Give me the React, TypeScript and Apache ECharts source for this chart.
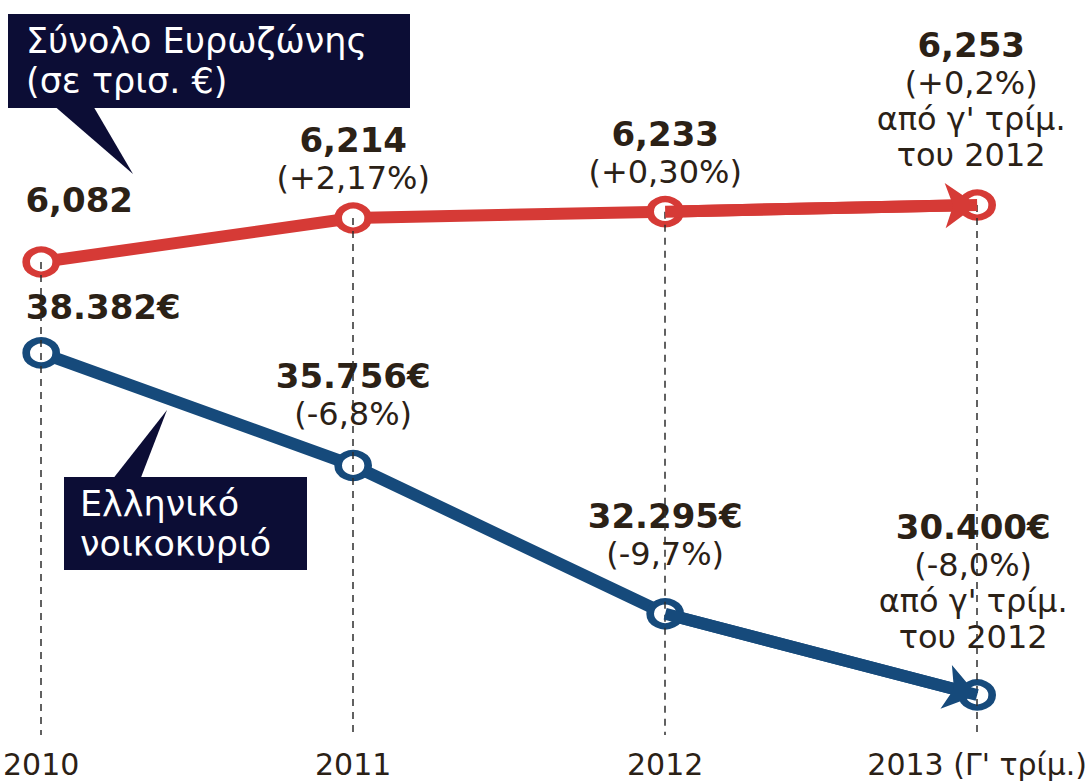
import React, { useEffect, useRef } from "react";
import * as echarts from "echarts";

// ---- data ----
const years = ["2010", "2011", "2012", "2013 (Γ' τρίμ.)"];
const eurozone = [6.082, 6.214, 6.233, 6.253];
const eurozoneText = ["6,082", "6,214", "6,233", "6,253"];
const eurozoneChange = ["", "(+2,17%)", "(+0,30%)", "(+0,2%)\nαπό γ' τρίμ.\nτου 2012"];
const household = [38382, 35756, 32295, 30400];
const householdText = ["38.382€", "35.756€", "32.295€", "30.400€"];
const householdChange = ["", "(-6,8%)", "(-9,7%)", "(-8,0%)\nαπό γ' τρίμ.\nτου 2012"];

// ---- layout / style ----
const FONT = '"DejaVu Sans", "Noto Sans", sans-serif';
const RED = "#d63a36";
const BLUE = "#164a7b";
const TEXT = "#2b2116";
const NAVY = "#0c0d35";
const RED_MIN = 4.663;
const RED_MAX = 6.748;
const BLUE_MIN = 29466;
const BLUE_MAX = 45686;
const redOffsets = [[38, -20], [0, 0], [0, 0], [-6, -10]];
const blueOffsets = [[62, -4], [0, -12], [0, -20], [-4, -18]];

function makeLabel(v: string, change: string, off: number[]) {
  const lines = change ? "\n" + change.split("\n").map((s) => `{p|${s}}`).join("\n") : "";
  return {
    show: true,
    position: "top",
    distance: 6,
    offset: off,
    align: "center",
    formatter: `{v|${v}}` + lines,
    rich: {
      v: { fontFamily: FONT, fontWeight: "bold", fontSize: 34, color: TEXT, lineHeight: 40, align: "center" },
      p: { fontFamily: FONT, fontSize: 32, color: TEXT, lineHeight: 36, align: "center" },
    },
  };
}

function arrowLine(values: number[], color: string, width: number) {
  const n = values.length;
  return {
    silent: true,
    animation: false,
    label: { show: false },
    lineStyle: { color, width, type: "solid", opacity: 1 },
    data: [
      [
        { coord: [n - 2, values[n - 2]], symbol: "none" },
        { coord: [n - 1, values[n - 1]], symbol: "arrow", symbolSize: [34, 32] },
      ],
    ],
  };
}

export default function App() {
  const ref = useRef<HTMLDivElement>(null);
  useEffect(() => {
    if (!ref.current) return;
    const chart = echarts.init(ref.current, undefined, { renderer: "svg" });
    const option = {
      animation: false,
      backgroundColor: "#ffffff",
      grid: { left: 38, right: 112, top: 40, bottom: 46 },
      xAxis: {
        type: "category",
        data: years,
        boundaryGap: false,
        axisLine: { show: false },
        axisTick: { show: false },
        splitLine: { show: false },
        axisLabel: { fontFamily: FONT, fontSize: 30, color: TEXT, margin: 14, interval: 0 },
      },
      yAxis: [
        { type: "value", show: false, min: RED_MIN, max: RED_MAX, splitLine: { show: false } },
        { type: "value", show: false, min: BLUE_MIN, max: BLUE_MAX, splitLine: { show: false } },
      ],
      series: [
        {
          name: "guides",
          type: "line",
          yAxisIndex: 0,
          data: eurozone,
          z: 1,
          silent: true,
          symbol: "none",
          lineStyle: { opacity: 0 },
          markLine: {
            silent: true,
            symbol: ["none", "none"],
            label: { show: false },
            lineStyle: { color: "#2e2e2e", width: 1.5, type: [7, 6] },
            data: eurozone.map((v, i) => [{ coord: [i, v] }, { coord: [i, RED_MIN] }]),
          },
        },
        {
          name: "Σύνολο Ευρωζώνης",
          type: "line",
          yAxisIndex: 0,
          z: 3,
          data: eurozone.map((v, i) => ({
            value: v,
            label: makeLabel(eurozoneText[i], eurozoneChange[i], redOffsets[i]),
          })),
          symbol: "circle",
          symbolSize: [30, 25],
          showAllSymbol: true,
          lineStyle: { color: RED, width: 12 },
          itemStyle: { color: "#ffffff", borderColor: RED, borderWidth: 7 },
          markLine: arrowLine(eurozone, RED, 12),
        },
        {
          name: "Ελληνικό νοικοκυριό",
          type: "line",
          yAxisIndex: 1,
          z: 4,
          data: household.map((v, i) => ({
            value: v,
            label: makeLabel(householdText[i], householdChange[i], blueOffsets[i]),
          })),
          symbol: "circle",
          symbolSize: [30, 25],
          showAllSymbol: true,
          lineStyle: { color: BLUE, width: 12 },
          itemStyle: { color: "#ffffff", borderColor: BLUE, borderWidth: 7 },
          markLine: arrowLine(household, BLUE, 12),
        },
      ],
      graphic: [
        {
          type: "group",
          silent: true,
          children: [
            { type: "polygon", shape: { points: [[52, 104], [92, 104], [133, 174]] }, style: { fill: NAVY } },
            { type: "rect", shape: { x: 8, y: 14, width: 402, height: 94 }, style: { fill: NAVY } },
            {
              type: "text",
              x: 26,
              y: 21,
              style: {
                text: "Σύνολο Ευρωζώνης\n(σε τρισ. €)",
                fill: "#ffffff",
                fontFamily: FONT,
                fontSize: 35,
                lineHeight: 40,
              },
            },
          ],
        },
        {
          type: "group",
          silent: true,
          children: [
            { type: "polygon", shape: { points: [[112, 480], [140, 480], [167, 410]] }, style: { fill: NAVY } },
            { type: "rect", shape: { x: 64, y: 477, width: 243, height: 93 }, style: { fill: NAVY } },
            {
              type: "text",
              x: 80,
              y: 484,
              style: {
                text: "Ελληνικό\nνοικοκυριό",
                fill: "#ffffff",
                fontFamily: FONT,
                fontSize: 35,
                lineHeight: 40,
              },
            },
          ],
        },
      ],
    };
    chart.setOption(option as any);
    return () => chart.dispose();
  }, []);
  return (
    <div
      ref={ref}
      style={{ position: "absolute", left: 0, top: 0, width: 1090, height: 781, background: "#fff" }}
    />
  );
}
